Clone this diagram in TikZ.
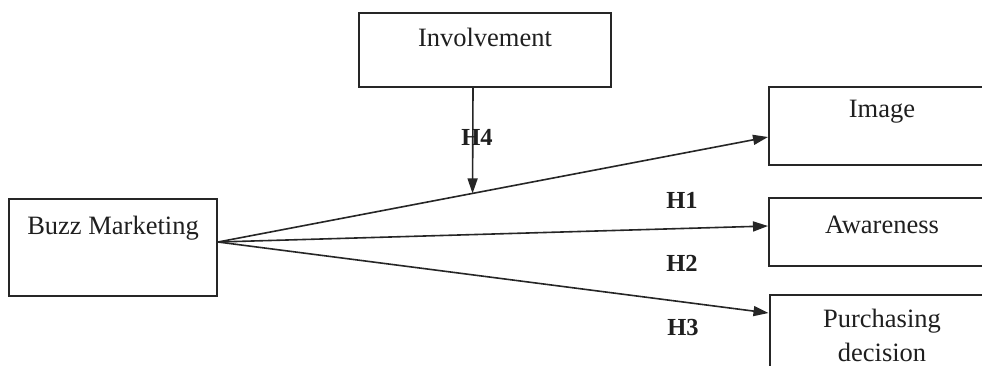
\documentclass[tikz,border=0pt]{standalone}
\usepackage{fontspec}
\setmainfont{Liberation Serif}
\usetikzlibrary{arrows.meta,calc}
\begin{document}
\begin{tikzpicture}[x=1pt,y=-1pt,
  box/.style={draw=black!85,line width=2pt,rectangle,inner sep=0pt},
  txt/.style={font=\fontsize{26.5}{34}\selectfont,text=black!88,inner sep=0pt,align=center},
  hlab/.style={font=\fontsize{24.5}{28}\selectfont\bfseries,text=black!88,inner sep=0pt},
  arr/.style={draw=black!85,line width=1.6pt,-{Triangle[length=15pt,width=10pt]}}]
\useasboundingbox (0,0) rectangle (982,365);
\clip (0,0) rectangle (982,365);
\fill[white] (0,0) rectangle (982,365);
% boxes
\node[box,minimum width=208pt,minimum height=97pt] (bm) at (113,247.5) {};
\node[box,minimum width=252pt,minimum height=74pt] (inv) at (485,50) {};
\node[box,minimum width=226pt,minimum height=78pt] (img) at (882,126) {};
\node[box,minimum width=226pt,minimum height=68pt] (aw) at (882,232) {};
\node[box,minimum width=226pt,minimum height=90pt] (pd) at (882.5,340) {};
% texts
\node[txt] (bmt) at (113,228) {Buzz Marketing};
\node[txt] (invt) at (485,37) {Involvement};
\node[txt] (imgt) at (882,112) {Image};
\node[txt] (awt) at (882,225) {Awareness};
\node[txt] (pdt) at (882,335) {Purchasing\\decision};
% connector end points
\coordinate (src) at ([yshift=5.5pt]bm.east);
\coordinate (eimg) at ([yshift=-11pt]img.west);
\coordinate (eaw) at ([yshift=6pt]aw.west);
\coordinate (epd) at ([yshift=27pt]pd.west);
\coordinate (h4s) at ([xshift=-12pt]inv.south);
\coordinate (h4e) at ($(src)!0.4628!(eimg)$);
% connectors
\draw[arr] (src) -- (eimg);
\draw[arr] (src) -- (eaw);
\draw[arr] (src) -- (epd);
\draw[arr] (h4s) -- (h4e);
% labels
\node[hlab] (h4) at (477,137) {H4};
\node[hlab] (h1) at (682,200) {H1};
\node[hlab] (h2) at (682,263) {H2};
\node[hlab] (h3) at (683,328) {H3};
\end{tikzpicture}
\end{document}
